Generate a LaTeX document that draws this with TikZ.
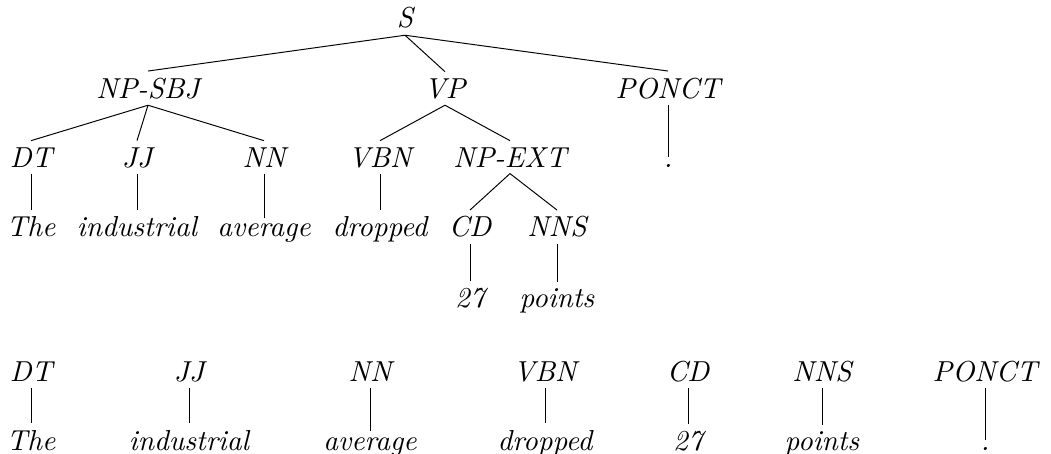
\documentclass[tikz,border=0pt]{standalone}
\begin{document}
\begin{tikzpicture}[x=0.36pt, y=-0.36pt, line width=0.35pt,
        every node/.style={font=\fontsize{10.4}{12}\selectfont\itshape, anchor=base, inner sep=2.2pt}]
        \useasboundingbox (0, 0) rectangle (1051, 454);

        \node (S)     at (405, 28)  {S};
        \node (NPSBJ) at (148, 98)  {NP-SBJ};
        \node (VP)    at (445, 98)  {VP};
        \node (PONCT) at (668, 98)  {PONCT};
        \node (DT)    at (31, 167)  {DT};
        \node (JJ)    at (137, 167) {JJ};
        \node (NN)    at (264, 167) {NN};
        \node (VBN)   at (380, 167) {VBN};
        \node (NPEXT) at (510, 167) {NP-EXT};
        \node (Pt)    at (668, 167) {.};
        \node (The)   at (31, 237)  {The};
        \node (Ind)   at (137, 237) {industrial};
        \node (Avg)   at (264, 237) {average};
        \node (Drp)   at (380, 237) {dropped};
        \node (CD)    at (470, 237) {CD};
        \node (NNS)   at (557, 237) {NNS};
        \node (Num)   at (470, 307) {27};
        \node (Pts)   at (557, 307) {points};

        \path
            (S.south) edge (NPSBJ.north) edge (VP.north) edge (PONCT.north)
            (NPSBJ.south) edge (DT.north) edge (JJ.north) edge (NN.north)
            (VP.south) edge (VBN.north) edge (NPEXT.north)
            (PONCT.south) edge (Pt.north)
            (DT.south) edge (The.north)
            (JJ.south) edge (Ind.north)
            (NN.south) edge (Avg.north)
            (VBN.south) edge (Drp.north)
            (NPEXT.south) edge (CD.north) edge (NNS.north)
            (CD.south) edge (Num.north)
            (NNS.south) edge (Pts.north);

        % flat row of tags
        \node (DT2)    at (31, 381)  {DT};
        \node (JJ2)    at (189, 381) {JJ};
        \node (NN2)    at (370, 381) {NN};
        \node (VBN2)   at (545, 381) {VBN};
        \node (CD2)    at (688, 381) {CD};
        \node (NNS2)   at (822, 381) {NNS};
        \node (PONCT2) at (985, 381) {PONCT};
        \node (The2)   at (31, 450)  {The};
        \node (Ind2)   at (189, 450) {industrial};
        \node (Avg2)   at (370, 450) {average};
        \node (Drp2)   at (545, 450) {dropped};
        \node (Num2)   at (688, 450) {27};
        \node (Pts2)   at (822, 450) {points};
        \node (Pt2)    at (985, 450) {.};

        \path
            (DT2.south) edge (The2.north)
            (JJ2.south) edge (Ind2.north)
            (NN2.south) edge (Avg2.north)
            (VBN2.south) edge (Drp2.north)
            (CD2.south) edge (Num2.north)
            (NNS2.south) edge (Pts2.north)
            (PONCT2.south) edge (Pt2.north);
    \end{tikzpicture}
\end{document}
